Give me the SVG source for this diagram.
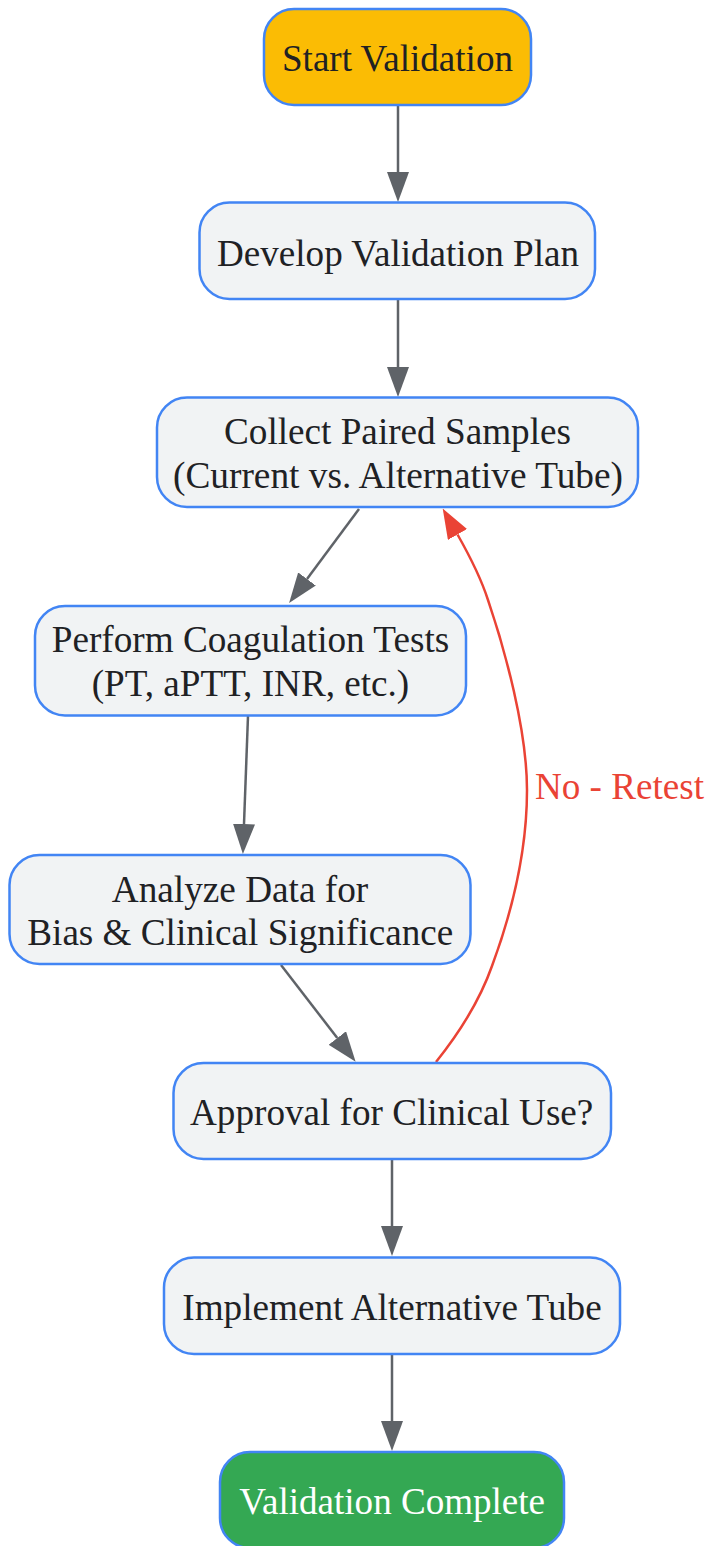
<svg xmlns="http://www.w3.org/2000/svg" width="710" height="1546" viewBox="0 0 710 1546">
<style>
.node rect{fill:#F1F3F4;stroke:#4285F4;stroke-width:2.5}
.node text{font-family:"Liberation Serif","Times New Roman",serif;font-size:38px;fill:#202124;text-anchor:middle}
#start rect{fill:#FBBC04}
#complete rect{fill:#34A853}
#complete text{fill:#FFFFFF}
.edge{fill:none;stroke:#5F6368;stroke-width:2.5}
.edge.no{stroke:#EA4335}
.elabel{font-family:"Liberation Serif","Times New Roman",serif;font-size:38px;fill:#EA4335}
</style>
<defs>
<marker id="ag" markerUnits="userSpaceOnUse" viewBox="0 0 30 22" refX="0" refY="11" markerWidth="30" markerHeight="22" orient="auto">
<path d="M0,0 L30,11 L0,22 z" fill="#5F6368"/>
</marker>
<marker id="ar" markerUnits="userSpaceOnUse" viewBox="0 0 30 22" refX="0" refY="11" markerWidth="30" markerHeight="22" orient="auto">
<path d="M0,0 L30,11 L0,22 z" fill="#EA4335"/>
</marker>
</defs>
<g id="edges">
<path class="edge" d="M398,105 L398,172" marker-end="url(#ag)"/>
<path class="edge" d="M398,299 L398,367" marker-end="url(#ag)"/>
<path class="edge" d="M359,509 L307,579" marker-end="url(#ag)"/>
<path class="edge" d="M248,716 L244,824" marker-end="url(#ag)"/>
<path class="edge" d="M281,965 L337.3,1038" marker-end="url(#ag)"/>
<path class="edge" d="M392,1159 L392,1226" marker-end="url(#ag)"/>
<path class="edge" d="M392,1354 L392,1421" marker-end="url(#ag)"/>
<path class="edge no" d="M436,1062 C460,1032 480,1000 492,966 C512,912 527,850 527,790 C527,730 505,650 488,600 C480,575 468,553 457.5,534.5" marker-end="url(#ar)"/>
<text class="elabel" x="535" y="799" textLength="169" lengthAdjust="spacingAndGlyphs">No - Retest</text>
</g>
<g id="start" class="node">
<rect x="264" y="9" width="267" height="96" rx="30" ry="30"/>
<text x="397.5" y="70.5" textLength="231" lengthAdjust="spacingAndGlyphs">Start Validation</text>
</g>
<g id="plan" class="node">
<rect x="199.5" y="202.5" width="395.5" height="96.5" rx="30" ry="30"/>
<text x="398" y="265.5" textLength="362" lengthAdjust="spacingAndGlyphs">Develop Validation Plan</text>
</g>
<g id="collect" class="node">
<rect x="157" y="397.5" width="481" height="109.5" rx="30" ry="30"/>
<text x="397.5" y="444" textLength="347" lengthAdjust="spacingAndGlyphs">Collect Paired Samples</text>
<text x="398" y="487.5" textLength="450" lengthAdjust="spacingAndGlyphs">(Current vs. Alternative Tube)</text>
</g>
<g id="perform" class="node">
<rect x="35" y="606" width="431" height="109.5" rx="30" ry="30"/>
<text x="250.5" y="651.5" textLength="397.5" lengthAdjust="spacingAndGlyphs">Perform Coagulation Tests</text>
<text x="250.5" y="695.5" textLength="317.5" lengthAdjust="spacingAndGlyphs">(PT, aPTT, INR, etc.)</text>
</g>
<g id="analyze" class="node">
<rect x="9.5" y="855" width="461" height="109" rx="30" ry="30"/>
<text x="240" y="901.5" textLength="256.5" lengthAdjust="spacingAndGlyphs">Analyze Data for</text>
<text x="240.3" y="945" textLength="426" lengthAdjust="spacingAndGlyphs">Bias &amp; Clinical Significance</text>
</g>
<g id="approval" class="node">
<rect x="173.5" y="1063" width="437.5" height="96" rx="30" ry="30"/>
<text x="391.7" y="1125" textLength="403.3" lengthAdjust="spacingAndGlyphs">Approval for Clinical Use?</text>
</g>
<g id="implement" class="node">
<rect x="164" y="1257.5" width="456" height="96.5" rx="30" ry="30"/>
<text x="392" y="1320" textLength="419.4" lengthAdjust="spacingAndGlyphs">Implement Alternative Tube</text>
</g>
<g id="complete" class="node">
<rect x="220" y="1452" width="344" height="96" rx="30" ry="30"/>
<text x="392.2" y="1514" textLength="305.7" lengthAdjust="spacingAndGlyphs">Validation Complete</text>
</g>
</svg>
